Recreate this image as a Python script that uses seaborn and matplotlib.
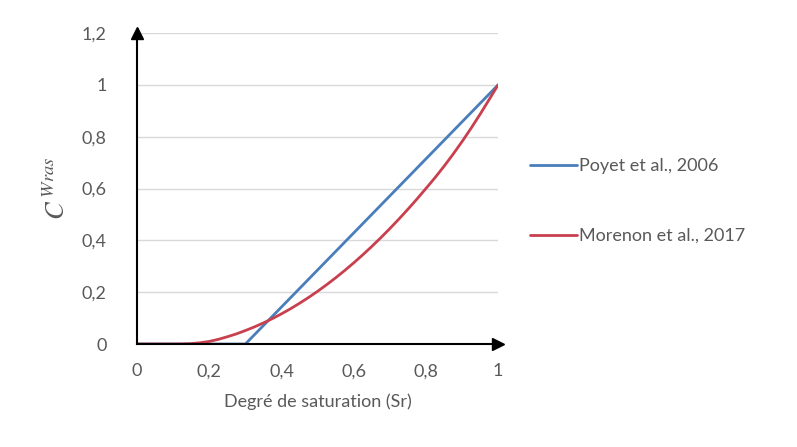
import matplotlib
matplotlib.use("Agg")
import matplotlib.pyplot as plt
import seaborn as sns
import pandas as pd

# Data
sr_poyet = [0.0, 0.3, 1.0]
c_poyet = [0.0, 0.0, 1.0]

sr_morenon = [0.0, 0.05, 0.1, 0.125, 0.15, 0.175, 0.2, 0.225, 0.25, 0.275, 0.3,
              0.325, 0.35, 0.375, 0.4, 0.425, 0.45, 0.475, 0.5, 0.525, 0.55,
              0.575, 0.6, 0.625, 0.65, 0.675, 0.7, 0.725, 0.75, 0.775, 0.8,
              0.825, 0.85, 0.875, 0.9, 0.925, 0.95, 0.975, 1.0]
c_morenon = [0.0, 0.0, 0.0, 0.0002, 0.0015, 0.005, 0.010, 0.018, 0.028, 0.039, 0.052,
             0.066, 0.0814, 0.0982, 0.1165, 0.1361, 0.1572, 0.1796, 0.2035, 0.2288, 0.2555,
             0.2836, 0.3131, 0.344, 0.3764, 0.4101, 0.4453, 0.4818, 0.5198, 0.5592, 0.6,
             0.6415, 0.6855, 0.732, 0.781, 0.8325, 0.8865, 0.943, 1.0]

labels = ["Poyet et al., 2006", "Morenon et al., 2017"]
x_ticks = [0, 0.2, 0.4, 0.6, 0.8, 1.0]
x_ticklabels = ["0", "0,2", "0,4", "0,6", "0,8", "1"]
y_ticks = [0, 0.2, 0.4, 0.6, 0.8, 1.0, 1.2]
y_ticklabels = ["0", "0,2", "0,4", "0,6", "0,8", "1", "1,2"]

df = pd.concat([
    pd.DataFrame({"Sr": sr_poyet, "C": c_poyet, "model": labels[0]}),
    pd.DataFrame({"Sr": sr_morenon, "C": c_morenon, "model": labels[1]}),
], ignore_index=True)

sns.set_style("white")
plt.rcParams["font.family"] = ["Lato", "DejaVu Sans"]
plt.rcParams["mathtext.fontset"] = "stix"

fig = plt.figure(figsize=(7.97, 4.47), dpi=100)
ax = fig.add_axes([0.172, 0.2304, 0.453, 0.6957])

sns.lineplot(data=df, x="Sr", y="C", hue="model", hue_order=labels,
             palette=["#4A7EBB", "#C8404E"], linewidth=2, ax=ax,
             estimator=None, sort=False)

ax.set_xlim(0, 1)
ax.set_ylim(0, 1.2)
ax.set_xticks(x_ticks)
ax.set_xticklabels(x_ticklabels)
ax.set_yticks(y_ticks)
ax.set_yticklabels(y_ticklabels)
ax.tick_params(axis="x", direction="out", length=6, width=1, color="#333333",
               labelsize=13, labelcolor="#595959", pad=8)
ax.tick_params(axis="y", length=0, labelsize=13, labelcolor="#595959", pad=22)
ax.yaxis.grid(True, color="#D9D9D9", linewidth=1)
ax.set_axisbelow(True)

for s in ["top", "right"]:
    ax.spines[s].set_visible(False)
for s in ["left", "bottom"]:
    ax.spines[s].set_color("black")
    ax.spines[s].set_linewidth(1.5)
    ax.spines[s].set_zorder(5)

ax.plot(1, 0, ">k", markersize=8, transform=ax.get_yaxis_transform(), clip_on=False, zorder=6)
ax.plot(0, 1, "^k", markersize=8, transform=ax.get_xaxis_transform(), clip_on=False, zorder=6)

ax.set_xlabel("Degré de saturation (Sr)", fontsize=13, color="#595959", labelpad=10)
ax.set_ylabel(r"$C^{\,Wras}$", fontsize=19, color="#595959", labelpad=8)

ax.legend(loc="center left", bbox_to_anchor=(1.089, 0.46), frameon=False,
          fontsize=13, handlelength=2.6, handletextpad=0.1, labelspacing=3.0,
          borderpad=0, borderaxespad=0, labelcolor="#595959")

fig.savefig("out.png", dpi=100)
